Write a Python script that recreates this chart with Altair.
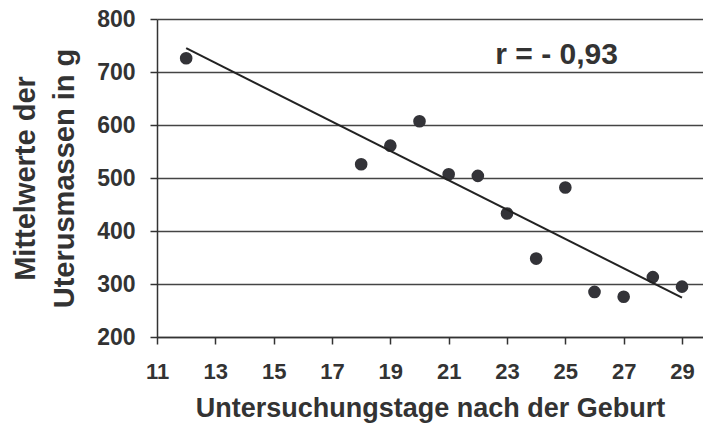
import altair as alt
import pandas as pd

# Data
days = [12, 18, 19, 20, 21, 22, 23, 24, 25, 26, 27, 28, 29]
mass = [726, 526, 561, 607, 507, 504, 433, 348, 482, 285, 276, 313, 295]
x_ticks = [11, 13, 15, 17, 19, 21, 23, 25, 27, 29]
y_ticks = [200, 300, 400, 500, 600, 700, 800]
annot_text = ["r = - 0,93"]
annot_x = [24.7]
annot_y = [732]

df = pd.DataFrame({"tag": days, "masse": mass})
df_annot = pd.DataFrame({"tag": annot_x, "masse": annot_y, "label": annot_text})

FONT = "Liberation Sans"
TXT = "#333333"

x_enc = alt.X(
    "tag:Q",
    scale=alt.Scale(domain=[11, 29.72], nice=False, zero=False),
    axis=alt.Axis(
        values=x_ticks,
        title="Untersuchungstage nach der Geburt",
        grid=False,
        labelFontSize=22,
        labelPadding=17,
        titleFontSize=27,
        titlePadding=13,
        labelFlush=False,
    ),
)
y_enc = alt.Y(
    "masse:Q",
    scale=alt.Scale(domain=[200, 800], nice=False, zero=False),
    axis=alt.Axis(
        values=y_ticks,
        title=["Mittelwerte der", "Uterusmassen in g"],
        grid=True,
        labelFontSize=23,
        labelPadding=15,
        titleFontSize=29,
        titleLineHeight=39,
        titlePadding=17,
        labelFlush=False,
    ),
)

points = alt.Chart(df).mark_circle(size=160, color="#333338", opacity=1).encode(
    x=x_enc, y=y_enc
)

line = (
    alt.Chart(df)
    .transform_regression("tag", "masse")
    .mark_line(color="#222222", strokeWidth=2)
    .encode(x="tag:Q", y="masse:Q")
)

annot = alt.Chart(df_annot).mark_text(
    font=FONT, fontWeight="bold", fontSize=30, color=TXT, align="center", baseline="middle"
).encode(x="tag:Q", y="masse:Q", text="label:N")

chart = (
    alt.layer(points, line, annot)
    .properties(
        width=546,
        height=318,
        autosize=alt.AutoSizeParams(type="none"),
        padding={"left": 157, "top": 19, "right": 0, "bottom": 88},
        background="white",
    )
    .configure_view(stroke=None)
    .configure_axis(
        labelFont=FONT,
        labelFontWeight="bold",
        labelColor=TXT,
        titleFont=FONT,
        titleFontWeight="bold",
        titleColor=TXT,
        domainColor="#333333",
        domainWidth=1.5,
        tickColor="#333333",
        tickWidth=1.5,
        tickSize=7,
        gridColor="#444444",
        gridWidth=1.3,
    )
)

chart.save("out.html", embed_options={"renderer": "svg", "actions": False})
